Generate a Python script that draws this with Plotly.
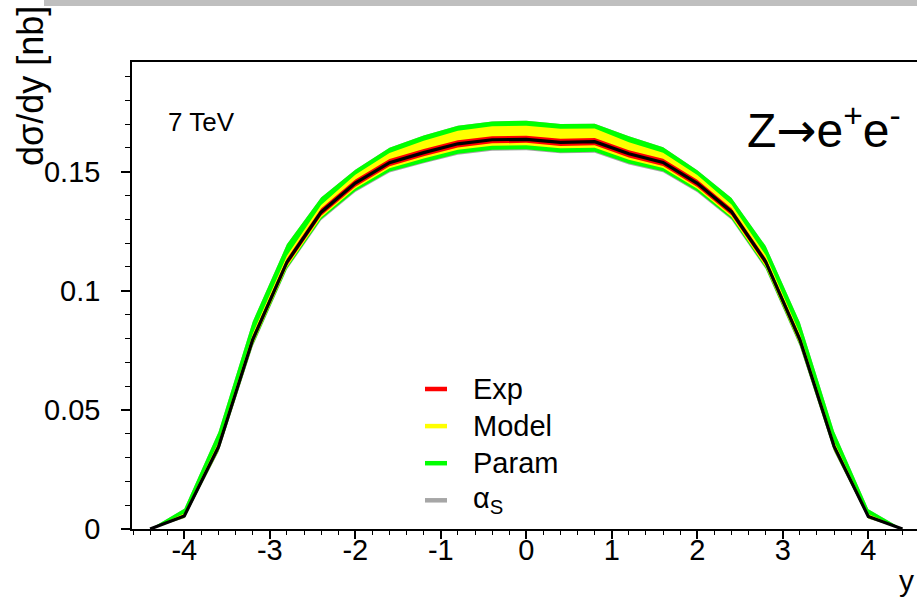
import numpy as np
import plotly.graph_objects as go

# Rapidity bin centres
rapidity = [-4.4, -4.0, -3.6, -3.2, -2.8, -2.4, -2.0, -1.6, -1.2, -0.8, -0.4, 0.0,
            0.4, 0.8, 1.2, 1.6, 2.0, 2.4, 2.8, 3.2, 3.6, 4.0, 4.4]

# Central prediction dsigma/dy [nb]
central = [0.0, 0.0055, 0.0345, 0.0795, 0.1120, 0.1330, 0.1452, 0.1538, 0.1580, 0.1617,
           0.1634, 0.1636, 0.1623, 0.1626, 0.1575, 0.1539, 0.1451, 0.1332, 0.1122,
           0.0795, 0.0347, 0.0053, 0.0]

# Uncertainty components (each stacked on top of the previous one)
exp_err = [0.0, 0.0006, 0.0012, 0.0015, 0.0015, 0.0015, 0.0015, 0.0015, 0.0015, 0.0015,
           0.0015, 0.0015, 0.0015, 0.0015, 0.0015, 0.0015, 0.0015, 0.0015, 0.0015,
           0.0015, 0.0012, 0.0006, 0.0]
model_up = [0.0, 0.0004, 0.0008, 0.0010, 0.0012, 0.0015, 0.0020, 0.0026, 0.0035, 0.0040,
            0.0042, 0.0042, 0.0042, 0.0040, 0.0034, 0.0026, 0.0020, 0.0015, 0.0012,
            0.0010, 0.0008, 0.0004, 0.0]
model_dn = [0.0, 0.0002, 0.0004, 0.0005, 0.0006, 0.0007, 0.0008, 0.0009, 0.0010, 0.0010,
            0.0010, 0.0010, 0.0010, 0.0010, 0.0010, 0.0009, 0.0008, 0.0007, 0.0006,
            0.0005, 0.0004, 0.0002, 0.0]
param_up = [0.0, 0.0020, 0.0042, 0.0050, 0.0048, 0.0032, 0.0021, 0.0021, 0.0022, 0.0021,
            0.0020, 0.0021, 0.0020, 0.0020, 0.0025, 0.0023, 0.0020, 0.0028, 0.0039,
            0.0047, 0.0042, 0.0020, 0.0]
param_dn = [0.0, 0.0, 0.0003, 0.0005, 0.0006, 0.0008, 0.0010, 0.0013, 0.0016, 0.0017,
            0.0017, 0.0017, 0.0017, 0.0017, 0.0016, 0.0013, 0.0010, 0.0008, 0.0006,
            0.0005, 0.0003, 0.0, 0.0]
alphas_dn = [0.0, 0.0002, 0.0003, 0.0004, 0.0004, 0.0004, 0.0004, 0.0004, 0.0004, 0.0004,
             0.0004, 0.0004, 0.0004, 0.0004, 0.0004, 0.0004, 0.0004, 0.0004, 0.0004,
             0.0004, 0.0003, 0.0002, 0.0]

legend_labels = ["Exp", "Model", "Param", "α<sub>S</sub>"]
legend_colors = ["#ff0000", "#ffff00", "#00ff00", "#a6a6a6"]

x_tick_vals = [-4, -3, -2, -1, 0, 1, 2, 3, 4]
x_tick_text = ["-4", "-3", "-2", "-1", "0", "1", "2", "3", "4"]

FONT = "Liberation Sans, Arial, Helvetica, sans-serif"

x = np.array(rapidity)
c = np.array(central)
e = np.array(exp_err)
mu, md = np.array(model_up), np.array(model_dn)
pu, pd_ = np.array(param_up), np.array(param_dn)
ad = np.array(alphas_dn)

red_hi, red_lo = c + e, c - e
yel_hi, yel_lo = red_hi + mu, red_lo - md
grn_hi, grn_lo = yel_hi + pu, yel_lo - pd_
gry_hi, gry_lo = grn_hi, grn_lo - ad


def band(hi, lo, color):
    return go.Scatter(
        x=np.concatenate([x, x[::-1]]),
        y=np.concatenate([hi, lo[::-1]]),
        fill="toself", fillcolor=color, mode="lines",
        line=dict(width=0, color=color), hoverinfo="skip", showlegend=False,
    )


fig = go.Figure()
fig.add_trace(band(gry_hi, gry_lo, legend_colors[3]))
fig.add_trace(band(grn_hi, grn_lo, legend_colors[2]))
fig.add_trace(band(yel_hi, yel_lo, legend_colors[1]))
fig.add_trace(band(red_hi, red_lo, legend_colors[0]))
fig.add_trace(go.Scatter(x=x, y=c, mode="lines", line=dict(color="black", width=3.2),
                         showlegend=False))

W, H = 917, 599
L, R, T, B = 132, 0, 62, 70
PW, PH = W - L - R, H - T - B


def px(p):
    return (p - L) / PW


def py(p):
    return (H - B - p) / PH


shapes = [
    # grey strip along the top of the canvas
    dict(type="rect", xref="paper", yref="paper", x0=px(44), x1=px(917),
         y0=py(6), y1=py(0), fillcolor="#bfbfbf", line=dict(width=0), layer="below"),
]
annotations = []

# legend block
for i, (lab, col) in enumerate(zip(legend_labels, legend_colors)):
    yc = 389 + i * 37.1
    shapes.append(dict(type="line", xref="paper", yref="paper", x0=px(425), x1=px(447),
                       y0=py(yc), y1=py(yc), line=dict(color=col, width=4.5)))
    annotations.append(dict(text=lab, xref="paper", yref="paper", x=px(471), y=py(yc),
                            xanchor="left", yanchor="middle", showarrow=False,
                            font=dict(family=FONT, size=29, color="black")))

annotations += [
    dict(text="7 TeV", xref="paper", yref="paper", x=px(166), y=py(122),
         xanchor="left", yanchor="middle", showarrow=False,
         font=dict(family=FONT, size=26, color="black")),
    dict(text="Z<span style=\"font-family:'DejaVu Sans'\">→</span>e<sup>+</sup>e<sup>-</sup>",
         xref="paper", yref="paper",
         x=px(745), y=py(127), xanchor="left", yanchor="middle", showarrow=False,
         font=dict(family=FONT, size=48, color="black")),
    dict(text="dσ/dy [nb]", xref="paper", yref="paper", x=px(31), y=py(4),
         xanchor="center", yanchor="top", textangle=-90, showarrow=False,
         font=dict(family=FONT, size=36, color="black")),
    dict(text="y", xref="paper", yref="paper", x=px(915), y=py(598),
         xanchor="right", yanchor="bottom", showarrow=False, borderpad=0,
         font=dict(family=FONT, size=30, color="black")),
]

fig.update_layout(
    width=W, height=H,
    margin=dict(l=L, r=R, t=T, b=B),
    paper_bgcolor="white", plot_bgcolor="white",
    showlegend=False,
    shapes=shapes, annotations=annotations,
    xaxis=dict(range=[-4.612, 4.570], showgrid=False, zeroline=False,
               showline=True, linecolor="black", linewidth=1.5, mirror=True,
               ticks="outside", ticklen=8, tickwidth=1.5, tickcolor="black",
               tickvals=x_tick_vals, ticktext=x_tick_text, ticklabelstandoff=-14,
               minor=dict(dtick=0.2, tick0=0, ticks="outside", ticklen=4,
                          tickwidth=1.2, tickcolor="black"),
               tickfont=dict(family=FONT, size=29, color="black")),
    yaxis=dict(range=[0, 0.19605], showgrid=False, zeroline=False,
               showline=True, linecolor="black", linewidth=1.5, mirror=False,
               ticks="outside", ticklen=9, tickwidth=1.5, tickcolor="black",
               tick0=0, dtick=0.05, ticklabelstandoff=15,
               minor=dict(dtick=0.01, tick0=0, ticks="outside", ticklen=5,
                          tickwidth=1.2, tickcolor="black"),
               tickfont=dict(family=FONT, size=29, color="black")),
)

fig.write_html("out.html")
